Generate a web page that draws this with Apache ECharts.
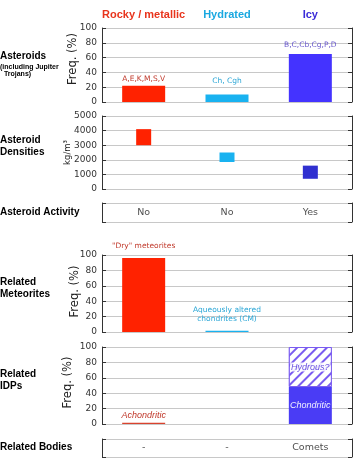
<!DOCTYPE html>
<html>
<head>
<meta charset="utf-8">
<script src="https://cdn.jsdelivr.net/npm/echarts@6/dist/echarts.min.js"></script>
<style>
html,body{margin:0;padding:0;background:#fff;}
#c{width:357px;height:472px;}
</style>
</head>
<body>
<div id="c"></div>
<script>
// ---- data ----
const categories = ['Rocky / metallic', 'Hydrated', 'Icy'];
const asteroidFreq = [22, 10, 65];
const asteroidClasses = ['A,E,K,M,S,V', 'Ch, Cgh', 'B,C,Cb,Cg,P,D'];
const densityLow = [3000, 1850, 700];
const densityHigh = [4100, 2500, 1600];
const activity = ['No', 'No', 'Yes'];
const meteoriteFreq = [96, 1.5, null];
const meteoriteLabels = ['"Dry" meteorites', 'Aqueously altered\nchondrites (CM)', ''];
const idpSolid = [1.5, null, 48];
const idpSolidLabels = ['Achondritic', '', 'Chondritic'];
const idpHatched = [null, null, 52];
const idpHatchedLabels = ['', '', 'Hydrous?'];
const relatedBodies = ['-', '-', 'Comets'];
const rowLabels = [
  {text: 'Asteroids', y: 56},
  {text: 'Asteroid\nDensities', y: 146},
  {text: 'Asteroid Activity', y: 212},
  {text: 'Related\nMeteorites', y: 288},
  {text: 'Related\nIDPs', y: 380},
  {text: 'Related Bodies', y: 447}
];
const rowSubLabel = '(including Jupiter\n  Trojans)';

// ---- style ----
const headColors = ['#e8341c', '#1aa8e0', '#3a2bd8'];
const ast = ['#ff2200', '#19b2f0', '#4433ff'];
const dens = ['#ff2200', '#19b2f0', '#3030d0'];
const labCol = ['#c0392b', '#2aa6d6', '#6a5acd'];
const FONT = "'DejaVu Sans', sans-serif";
const BOLD = "'Liberation Sans', Arial, sans-serif";
const AX = '#333';
const GRID = '#c8c8c8';

const grids = [
  {top: 28, height: 74},
  {top: 116, height: 73},
  {top: 203, height: 19},
  {top: 255, height: 77},
  {top: 347, height: 77},
  {top: 439, height: 18}
].map(g => Object.assign({left: 102, right: 5, containLabel: false}, g));

function xAx(i, extra) {
  return Object.assign({
    type: 'category', data: categories, gridIndex: i,
    axisLine: {show: false}, axisTick: {show: false}, axisLabel: {show: false},
    splitLine: {show: false}
  }, extra || {});
}
function yPair(i, min, max, interval, showLabels, name, nameGap, namePad, nameSize) {
  const left = {
    type: 'value', gridIndex: i, min, max, interval, position: 'left',
    axisLine: {show: true, lineStyle: {color: AX, width: 1}},
    axisTick: {show: true, inside: true, length: 4, lineStyle: {color: AX}},
    axisLabel: {show: showLabels, color: '#333', fontFamily: FONT, fontSize: 9, margin: 5,
      formatter: v => String(v)},
    splitLine: {show: true, lineStyle: {color: GRID, width: 1}}
  };
  if (name) {
    left.name = name;
    left.nameLocation = 'middle';
    left.nameGap = nameGap;
    left.nameMoveOverlap = false;
    left.nameTextStyle = {fontFamily: FONT, fontSize: nameSize, color: '#222', padding: namePad};
  }
  const right = {
    type: 'value', gridIndex: i, min, max, interval, position: 'right',
    axisLine: {show: true, lineStyle: {color: AX, width: 1}},
    axisTick: {show: true, inside: true, length: 4, lineStyle: {color: AX}},
    axisLabel: {show: false}, splitLine: {show: false}
  };
  return [left, right];
}

const xAxes = [
  xAx(0, {position: 'top', axisLabel: {show: true, margin: 8, interval: 0,
    formatter: (v, i) => '{c' + i + '|' + v + '}',
    rich: {
      c0: {color: headColors[0], fontFamily: BOLD, fontWeight: 'bold', fontSize: 11},
      c1: {color: headColors[1], fontFamily: BOLD, fontWeight: 'bold', fontSize: 11},
      c2: {color: headColors[2], fontFamily: BOLD, fontWeight: 'bold', fontSize: 11}
    }}}),
  xAx(1), xAx(2), xAx(3), xAx(4), xAx(5)
];
const yAxes = [].concat(
  yPair(0, 0, 100, 20, true, 'Freq. (%)', 23, [0, 0, 0, 12], 11.5),
  yPair(1, 0, 5000, 1000, true, 'kg/m³', 30, [0, 0, 0, 0], 8.5),
  yPair(2, 0, 1, 1, false),
  yPair(3, 0, 100, 20, true, 'Freq. (%)', 21, [0, 0, 0, 4], 11.5),
  yPair(4, 0, 100, 20, true, 'Freq. (%)', 28, [0, 0, 0, 6], 11.5),
  yPair(5, 0, 1, 1, false)
);

const astDist = [3, 10, 5];
const metDist = [8, 7, 0];

const series = [
  {
    type: 'bar', xAxisIndex: 0, yAxisIndex: 0, barWidth: 43,
    data: asteroidFreq.map((v, i) => ({value: v, itemStyle: {color: ast[i]},
      label: {show: true, position: 'top', distance: astDist[i], color: labCol[i],
        fontFamily: FONT, fontSize: 7.5, formatter: asteroidClasses[i]}}))
  },
  {
    type: 'bar', xAxisIndex: 1, yAxisIndex: 2, stack: 'd', barWidth: 15,
    itemStyle: {color: 'transparent'}, data: densityLow, silent: true
  },
  {
    type: 'bar', xAxisIndex: 1, yAxisIndex: 2, stack: 'd', barWidth: 15,
    data: densityHigh.map((h, i) => ({value: h - densityLow[i], itemStyle: {color: dens[i]}}))
  },
  {
    type: 'scatter', xAxisIndex: 2, yAxisIndex: 4, symbolSize: 0,
    data: activity.map((t, i) => ({value: 0.5, name: t})),
    label: {show: true, position: 'inside', formatter: p => p.name, color: '#222', fontFamily: FONT, fontSize: 9.5}
  },
  {
    type: 'bar', xAxisIndex: 3, yAxisIndex: 6, barWidth: 43,
    data: meteoriteFreq.map((v, i) => ({value: v, itemStyle: {color: ast[i]},
      label: {show: !!meteoriteLabels[i], position: 'top', distance: metDist[i], color: labCol[i],
        fontFamily: FONT, fontSize: 7.5, lineHeight: 9, formatter: meteoriteLabels[i]}}))
  },
  {
    type: 'bar', xAxisIndex: 4, yAxisIndex: 8, barWidth: 43, stack: 'idp',
    data: idpSolid.map((v, i) => ({value: v, itemStyle: {color: i === 0 ? '#d9432e' : '#4a3cf5'},
      label: {show: !!idpSolidLabels[i], position: i === 0 ? 'top' : 'inside', distance: 3,
        color: i === 0 ? '#c0392b' : '#f0f0ff', fontStyle: 'italic',
        fontFamily: BOLD, fontSize: 9, formatter: idpSolidLabels[i]}}))
  },
  {
    type: 'bar', xAxisIndex: 4, yAxisIndex: 8, barWidth: 43, stack: 'idp',
    data: idpHatched.map((v, i) => ({value: v,
      itemStyle: {color: '#ffffff', borderColor: '#7a5cf0', borderWidth: 1,
        decal: {symbol: 'rect', symbolSize: 1, color: '#7a5cf0', backgroundColor: '#ffffff',
          dashArrayX: [1, 0], dashArrayY: [2, 5], rotation: -Math.PI / 4}},
      label: {show: !!idpHatchedLabels[i], position: 'inside', color: '#6a50e0', fontStyle: 'italic',
        fontFamily: BOLD, fontSize: 9, backgroundColor: 'rgba(255,255,255,0.85)', padding: [0, 1],
        formatter: idpHatchedLabels[i]}}))
  },
  {
    type: 'scatter', xAxisIndex: 5, yAxisIndex: 10, symbolSize: 0,
    data: relatedBodies.map((t, i) => ({value: 0.5, name: t})),
    label: {show: true, position: 'inside', formatter: p => p.name, color: '#222', fontFamily: FONT, fontSize: 9.5}
  }
];

const graphics = rowLabels.map(r => ({
  type: 'text', left: 0, top: r.y - (r.text.indexOf('\n') >= 0 ? 12 : 6),
  style: {text: r.text, font: 'bold 10px ' + BOLD, fill: '#000', lineHeight: 12}
}));
graphics.push({
  type: 'text', left: 0, top: 64,
  style: {text: rowSubLabel, font: 'bold 7px ' + BOLD, fill: '#000', lineHeight: 7}
});

const chart = echarts.init(document.getElementById('c'), null, {renderer: 'canvas'});
chart.setOption({
  animation: false,
  backgroundColor: '#fff',
  grid: grids,
  xAxis: xAxes,
  yAxis: yAxes,
  series: series,
  graphic: graphics
});
</script>
</body>
</html>
